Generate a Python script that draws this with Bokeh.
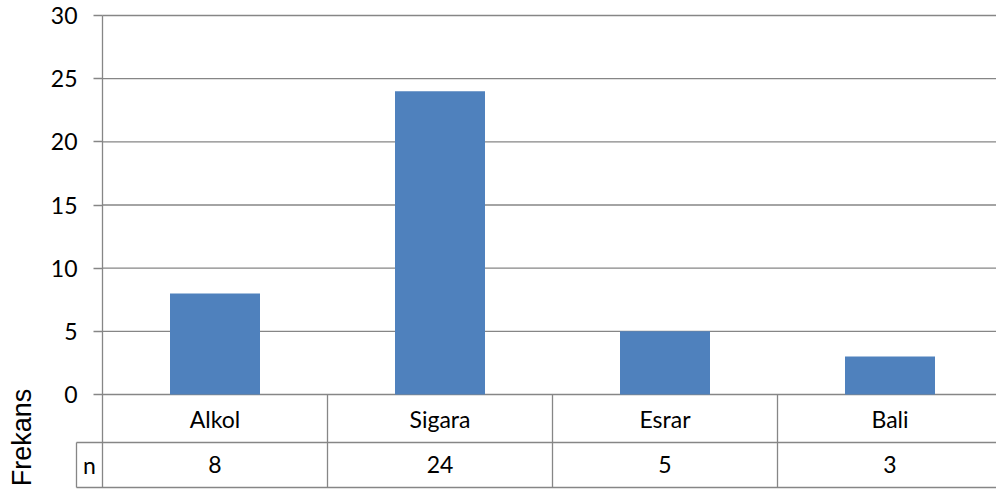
import math
from bokeh.plotting import figure
from bokeh.models import Range1d, FixedTicker, ColumnDataSource
from bokeh.core.properties import value
from bokeh.embed import file_html
from bokeh.resources import INLINE

categories = ["Alkol", "Sigara", "Esrar", "Bali"]
counts = [8, 24, 5, 3]
y_ticks = [0, 5, 10, 15, 20, 25, 30]
row_header = "n"
axis_title = "Frekans"

BAR = "#4F81BD"
GRID = "#868686"
FONT = "Lato"

W, H = 996, 491
PX_X = 225.0          # pixels per category
PX_Y = 379.0 / 30     # pixels per unit
x0_px, y0_px = 102, 394

xs = [i + 0.5 for i in range(len(categories))]
src = ColumnDataSource(dict(x=xs, top=counts, cat=categories, n=[str(c) for c in counts]))

x_start = -x0_px / PX_X
x_end = (W - x0_px) / PX_X
y_end = y0_px / PX_Y
y_start = -(H - y0_px) / PX_Y

p = figure(width=W, height=H, x_range=Range1d(x_start, x_end), y_range=Range1d(y_start, y_end),
           output_backend="svg", toolbar_location=None,
           min_border_left=0, min_border_right=0, min_border_top=0, min_border_bottom=0)
p.outline_line_color = None
p.background_fill_color = "white"
p.border_fill_color = "white"
p.xaxis.visible = False
p.xgrid.visible = False
p.ygrid.visible = False

row_div = -48 / PX_Y
row_bot = -93 / PX_Y

# y axis drawn at x = 0 (data)
ax = p.yaxis[0]
ax.fixed_location = 0
ax.bounds = (row_bot, max(y_ticks))
ax.ticker = FixedTicker(ticks=y_ticks)
ax.axis_line_color = GRID
ax.axis_line_width = 1.3
ax.major_tick_line_color = GRID
ax.major_tick_line_width = 1.3
ax.major_tick_out = 9
ax.major_tick_in = 0
ax.minor_tick_line_color = None
ax.major_label_standoff = 16
ax.major_label_text_font = FONT
ax.major_label_text_font_size = "23px"
ax.major_label_text_color = "black"

# horizontal gridlines at the tick values
p.segment(x0=[0] * len(y_ticks), y0=y_ticks, x1=[x_end] * len(y_ticks), y1=y_ticks,
          line_color=GRID, line_width=1.3, level="underlay")

p.vbar(x="x", top="top", bottom=0, width=0.4, source=src, fill_color=BAR, line_color=None)

# data table
n = len(categories)
n_left = -26 / PX_X
p.segment(x0=list(range(1, n)), y0=[0] * (n - 1), x1=list(range(1, n)), y1=[row_bot] * (n - 1),
          line_color=GRID, line_width=1.3)
p.segment(x0=[n_left, n_left], y0=[row_div, row_bot], x1=[x_end, x_end], y1=[row_div, row_bot],
          line_color=GRID, line_width=1.3)
p.segment(x0=[n_left], y0=[row_div], x1=[n_left], y1=[row_bot], line_color=GRID, line_width=1.3)

p.text(x="x", y=-24 / PX_Y, text="cat", source=src, text_align="center", text_baseline="middle",
       text_font=value(FONT), text_font_size="23px", text_color="black")
p.text(x="x", y=-70 / PX_Y, text="n", source=src, text_align="center", text_baseline="middle",
       text_font=value(FONT), text_font_size="23px", text_color="black")
p.text(x=[n_left / 2], y=[-70 / PX_Y], text=[row_header], text_align="center", text_baseline="middle",
       text_font=value(FONT), text_font_size="23px", text_color="black")
p.text(x=[-81 / PX_X], y=[-43 / PX_Y], text=[axis_title], angle=math.pi / 2, text_align="center",
       text_baseline="middle", text_font=value("Liberation Sans"), text_font_size="27px",
       text_color="black")

open("out.html", "w").write(file_html(p, INLINE))
